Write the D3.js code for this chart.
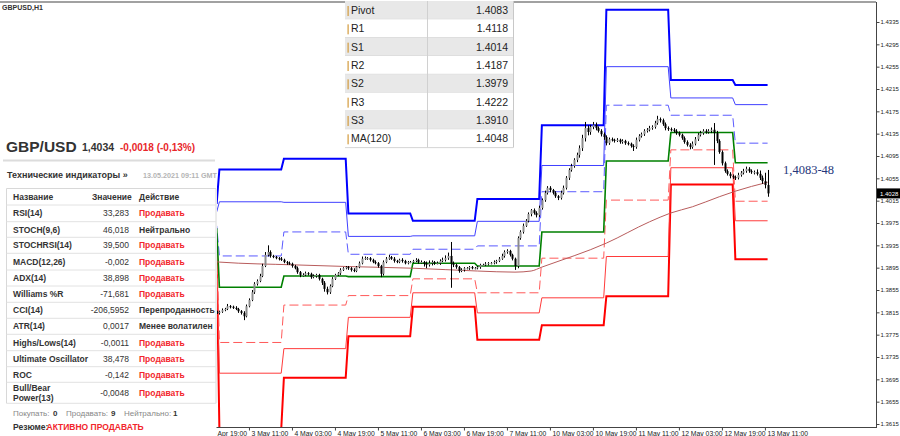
<!DOCTYPE html>
<html><head><meta charset="utf-8">
<script src="https://cdn.jsdelivr.net/npm/d3@7"></script>
<style>
html,body{margin:0;padding:0;background:#fff;}
svg{display:block;}
text{font-family:"Liberation Sans",Arial,sans-serif;}
</style></head>
<body><svg id="c" width="900" height="436"></svg>
<script>
// ---------------- DATA ----------------
const firstIdx = -3; // bar index of first close (30 Apr 21:00); index 0 = 3 May 00:00
const closes = [
1.3814,1.3816,1.3814,
1.3816,1.3819,1.3821,1.3826,1.3825,1.3823,1.3821,1.3817,1.3814,1.3808,1.3826,1.3837,1.3851,1.3866,1.3871,1.3880,1.3898,1.3918,1.3923,1.3916,1.3914,1.3912,1.3911,1.3909,
1.3905,1.3903,1.3902,1.3898,1.3894,1.3887,1.3882,1.3882,1.3885,1.3884,1.3878,1.3880,1.3882,1.3875,1.3868,1.3857,1.3851,1.3862,1.3875,1.3882,1.3885,1.3891,1.3894,1.3896,
1.3894,1.3891,1.3889,1.3896,1.3903,1.3911,1.3912,1.3912,1.3909,1.3905,1.3903,1.3898,1.3884,1.3905,1.3911,1.3914,1.3911,1.3907,1.3905,1.3909,1.3907,1.3903,1.3905,1.3905,
1.3907,1.3909,1.3905,1.3905,1.3902,1.3900,1.3903,1.3905,1.3903,1.3903,1.3907,1.3909,1.3912,1.3916,1.3903,1.3900,1.3896,1.3889,1.3891,1.3894,1.3894,1.3896,1.3894,1.3894,
1.3896,1.3900,1.3900,1.3902,1.3903,1.3903,1.3905,1.3907,1.3911,1.3916,1.3923,1.3925,1.3918,1.3911,1.3898,1.3948,1.3959,1.3970,1.3979,1.3991,1.3998,1.3993,1.3989,1.4002,
1.4016,1.4029,1.4038,1.4034,1.4029,1.4023,1.4020,1.4029,1.4038,1.4056,1.4070,1.4077,1.4088,1.4097,1.4109,1.4127,1.4145,1.4138,1.4147,1.4151,1.4145,1.4140,1.4134,1.4129,
1.4118,1.4125,1.4124,1.4122,1.4124,1.4120,1.4122,1.4118,1.4117,1.4113,1.4111,1.4124,1.4131,1.4134,1.4140,1.4142,1.4145,1.4147,1.4154,1.4161,1.4159,1.4152,1.4145,1.4143,
1.4142,1.4140,1.4136,1.4133,1.4127,1.4120,1.4115,1.4111,1.4117,1.4125,1.4133,1.4136,1.4140,1.4138,1.4140,1.4142,1.4136,1.4122,1.4102,1.4082,1.4068,1.4063,1.4059,1.4057,
1.4056,1.4061,1.4065,1.4068,1.4072,1.4068,1.4066,1.4066,1.4063,1.4056,1.4050,1.4043,1.4028];
// upper / lower wick lengths in pips beyond the candle body
const upWick = [2,2,2,
2,3,2,4,2,2,3,2,2,3,3,3,4,3,3,4,4,5,12,3,2,2,2,3,
2,2,3,2,2,3,2,3,3,2,2,3,2,2,2,3,4,3,3,2,2,3,2,2,
2,2,3,2,3,4,3,2,2,2,3,2,2,3,3,4,2,3,2,2,3,2,2,2,
2,3,2,3,2,4,5,3,2,3,3,4,5,6,25,3,2,2,3,2,2,2,2,2,
2,2,2,3,2,2,3,2,3,4,3,3,2,2,2,3,3,4,3,3,2,3,3,4,
3,4,3,3,2,3,2,4,4,3,3,4,3,4,5,6,11,5,4,5,4,3,3,3,
3,3,3,2,3,2,3,2,3,2,3,4,3,3,3,3,4,3,4,6,3,3,3,3,
3,3,3,3,2,3,3,3,4,4,3,4,3,3,3,4,12,4,3,3,3,3,3,3,
3,4,3,4,4,3,3,3,5,6,4,15,27];
const dnWick = [2,2,2,
3,2,2,2,3,2,2,3,3,7,2,2,2,3,3,2,2,2,3,3,2,2,3,2,
2,3,2,3,2,3,4,3,2,3,3,2,3,3,4,5,4,3,2,2,2,3,2,2,
3,3,2,2,2,2,2,3,3,2,2,3,6,3,2,2,2,3,2,2,3,2,2,2,
2,2,3,3,5,6,3,4,3,2,3,2,3,3,44,4,3,3,2,3,2,3,2,2,
2,3,2,2,3,2,2,3,2,2,3,3,3,3,7,4,3,3,2,3,4,3,4,3,
3,3,3,4,3,3,4,3,3,3,4,3,3,4,5,5,6,6,5,4,4,3,4,5,
4,3,3,3,2,3,3,3,3,3,7,3,3,3,3,3,3,3,3,3,4,3,4,3,
3,3,3,3,3,3,3,4,3,3,3,3,3,3,3,4,57,4,3,4,3,3,4,3,
4,3,3,3,3,3,3,4,3,4,5,6,6];

// daily pivot levels (30 Apr .. 13 May)
const days     = ["30 Apr","3 May","4 May","5 May","6 May","7 May","10 May","11 May","12 May","13 May"];
const dayStart = [-3, 0, 24, 48, 72, 96, 120, 144, 168, 192];
const dayEnd   = [-1, 23, 47, 71, 95, 119, 143, 167, 191, 204];
const R3 = [1.4011,1.4071,1.4090,1.3992,1.3979,1.4018,1.4150,1.4357,1.4231,1.4222];
const R2 = [1.3995,1.4013,1.4012,1.3951,1.3952,1.3978,1.4078,1.4255,1.4199,1.4187];
const R1 = [1.3970,1.3916,1.3959,1.3919,1.3928,1.3934,1.4031,1.4186,1.4168,1.4118];
const PP = [1.3964,1.3860,1.3880,1.3879,1.3903,1.3898,1.3959,1.4086,1.4137,1.4083];
const S1 = [1.3936,1.3761,1.3828,1.3845,1.3875,1.3850,1.3912,1.4016,1.4106,1.4014];
const S2 = [1.3923,1.3706,1.3750,1.3806,1.3850,1.3814,1.3841,1.3915,1.4074,1.3979];
const S3 = [1.3905,1.3605,1.3698,1.3772,1.3825,1.3766,1.3792,1.3844,1.4044,1.3910];

// MA(120) read points
const maIdx = [-3, 0, 28, 48, 72, 96, 110, 116, 120, 144, 160, 168, 176, 186, 192, 204];
const maVal = [1.3907,1.3905,1.3900,1.3897,1.3894,1.3889,1.3887,1.3889,1.3896,1.3939,1.3977,1.3993,1.4004,1.4022,1.4032,1.4048];

// axes
const yTicks = [1.3615,1.3655,1.3695,1.3735,1.3775,1.3815,1.3855,1.3895,1.3935,1.3975,1.4015,1.4055,1.4095,1.4135,1.4175,1.4215,1.4255,1.4295,1.4335];
const xTickIdx = [-5,11,27,43,59,75,91,107,123,139,155,171,187,203];
const xTickLab = ["30 Apr 19:00","3 May 11:00","4 May 03:00","4 May 19:00","5 May 11:00","6 May 03:00","6 May 19:00","7 May 11:00","10 May 03:00","10 May 19:00","11 May 11:00","12 May 03:00","12 May 19:00","13 May 11:00"];
const lastPrice = "1.4028";

// pivot table
const pivNames = ["Pivot","R1","S1","R2","S2","R3","S3","MA(120)"];
const pivVals  = ["1.4083","1.4118","1.4014","1.4187","1.3979","1.4222","1.3910","1.4048"];

// indicator panel
const indNames = ["RSI(14)","STOCH(9,6)","STOCHRSI(14)","MACD(12,26)","ADX(14)","Williams %R","CCI(14)","ATR(14)","Highs/Lows(14)","Ultimate Oscillator","ROC","Bull/Bear|Power(13)"];
const indVals  = ["33,283","46,018","39,500","-0,002","38,898","-71,681","-206,5952","0,0017","-0,0011","38,478","-0,142","-0,0048"];
const indActs  = ["Продавать","Нейтрально","Продавать","Продавать","Продавать","Продавать","Перепроданность","Менее волатилен","Продавать","Продавать","Продавать","Продавать"];
const summaryCounts = [["Покупать: ","0"],["Продавать: ","9"],["Нейтрально: ","1"]];

// ---------------- DRAW ----------------
const svg = d3.select("#c");
svg.append("rect").attr("width",900).attr("height",436).attr("fill","#fff");

const x = d3.scaleLinear().domain([0,204]).range([219.4,767.6]);
const y = d3.scaleLinear().domain([1.3615,1.4335]).range([424,22]);

svg.append("clipPath").attr("id","plot").append("rect")
  .attr("x",217).attr("y",2.5).attr("width",659).attr("height",425);
const plot = svg.append("g").attr("clip-path","url(#plot)");

const line = d3.line().x(d=>x(d[0])).y(d=>y(d[1]));
function steps(vals){ const p=[]; vals.forEach((v,k)=>{p.push([dayStart[k],v]);p.push([dayEnd[k],v]);}); return p; }

const levelDefs = [
  {v:S3,c:"#ff0000",w:2,d:null},
  {v:S2,c:"#ff3b3b",w:1,d:null},
  {v:S1,c:"#ff5a5a",w:1,d:"9,4"},
  {v:R3,c:"#0000ff",w:2,d:null},
  {v:R2,c:"#4040ff",w:1,d:null},
  {v:R1,c:"#5a5aff",w:1,d:"9,4"},
  {v:PP,c:"#008000",w:1.6,d:null}
];
levelDefs.forEach(L=>{
  plot.append("path").attr("d",line(steps(L.v))).attr("fill","none")
    .attr("stroke",L.c).attr("stroke-width",L.w).attr("stroke-dasharray",L.d);
});

// MA
plot.append("path")
  .attr("d",d3.line().x(d=>x(d[0])).y(d=>y(d[1])).curve(d3.curveMonotoneX)(maIdx.map((d,i)=>[d,maVal[i]])))
  .attr("fill","none").attr("stroke","#b85c5c").attr("stroke-width",1);

// candles
const bars = closes.map((c,i)=>{
  const o = i>0 ? closes[i-1] : c;
  return {i:firstIdx+i,o:o,c:c,h:Math.max(o,c)+upWick[i]*0.0001,l:Math.min(o,c)-dnWick[i]*0.0001};
});
const cg = plot.append("g");
cg.selectAll("line").data(bars).join("line")
  .attr("x1",d=>Math.round(x(d.i))+0.5).attr("x2",d=>Math.round(x(d.i))+0.5)
  .attr("y1",d=>y(d.h)).attr("y2",d=>y(d.l)).attr("stroke","#000").attr("stroke-width",1);
cg.selectAll("rect").data(bars).join("rect")
  .attr("x",d=>Math.round(x(d.i))-0.5).attr("width",2)
  .attr("y",d=>y(Math.max(d.o,d.c))).attr("height",d=>Math.max(1,Math.abs(y(d.o)-y(d.c))))
  .attr("fill",d=>d.c>=d.o?"#8c8c8c":"#000");

// frame
svg.append("line").attr("x1",0).attr("x2",876).attr("y1",2).attr("y2",2).attr("stroke","#444").attr("stroke-width",1.2);
svg.append("line").attr("x1",876.5).attr("x2",876.5).attr("y1",2).attr("y2",428).attr("stroke","#444");
svg.append("line").attr("x1",0).attr("x2",876.5).attr("y1",427.5).attr("y2",427.5).attr("stroke","#444");

// y axis
const gy = svg.append("g").attr("transform","translate(876.5,0)")
  .call(d3.axisRight(y).tickValues(yTicks).tickFormat(d3.format(".4f")).tickSize(3).tickSizeOuter(0));
gy.select(".domain").remove();
gy.selectAll("line").attr("stroke","#444");
gy.selectAll("text").attr("x",4).attr("fill","#222").style("font-size","6px");

// x axis
const gx = svg.append("g").attr("transform","translate(0,427.5)")
  .call(d3.axisBottom(x).tickValues(xTickIdx).tickFormat((d,i)=>xTickLab[i]).tickSize(3).tickSizeOuter(0));
gx.select(".domain").remove();
gx.selectAll("line").attr("stroke","#444");
gx.selectAll("text").attr("text-anchor","start").attr("x",2).attr("y",8).attr("dy","0").attr("fill","#222").style("font-size","6.8px");

// last price tag
svg.append("rect").attr("x",877).attr("y",y(1.4028)-5).attr("width",23).attr("height",10).attr("fill","#000");
svg.append("text").attr("x",880).attr("y",y(1.4028)+2.2).attr("fill","#fff").style("font-size","6px").text(lastPrice);

// annotation
svg.append("text").attr("x",783).attr("y",174).attr("fill","#26367a")
  .style("font-family","'Liberation Serif','Times New Roman',serif").style("font-size","12.5px").text("1,4083-48");

// pivot table
const tb = svg.append("g");
const rowH = 18.33, tx0 = 345, tw = 168, ty0 = 1;
pivNames.forEach((n,i)=>{
  const yy = ty0 + i*rowH;
  tb.append("rect").attr("x",tx0).attr("y",yy).attr("width",tw).attr("height",rowH).attr("fill",i%2===0?"#e8e8e8":"#fff");
  tb.append("line").attr("x1",tx0).attr("x2",tx0+tw).attr("y1",yy+rowH).attr("y2",yy+rowH).attr("stroke","#d4d4d4");
  tb.append("rect").attr("x",347.5).attr("y",yy+5).attr("width",1.2).attr("height",10).attr("fill","#d39b3c");
  tb.append("text").attr("x",351).attr("y",yy+13).attr("fill","#222").style("font-size","10.5px").text(n);
  tb.append("text").attr("x",508).attr("y",yy+13).attr("text-anchor","end").attr("fill","#222").style("font-size","10.5px").text(pivVals[i]);
});
tb.append("line").attr("x1",427.5).attr("x2",427.5).attr("y1",ty0).attr("y2",ty0+8*rowH).attr("stroke","#d0d0d0");
tb.append("line").attr("x1",513.5).attr("x2",513.5).attr("y1",ty0).attr("y2",ty0+8*rowH).attr("stroke","#c8c8c8");

// left panel
const pn = svg.append("g");
pn.append("rect").attr("x",0).attr("y",3).attr("width",216.5).attr("height",433).attr("fill","#fff");
svg.append("text").attr("x",2).attr("y",9.5).attr("fill","#333").style("font-size","7px").style("font-weight","bold").text("GBPUSD,H1");

pn.append("text").attr("x",6).attr("y",152).attr("fill","#333").style("font-size","15.5px").style("font-weight","bold").text("GBP/USD");
pn.append("text").attr("x",82).attr("y",151).attr("fill","#333").style("font-size","10.5px").style("font-weight","bold").text("1,4034");
pn.append("text").attr("x",120).attr("y",151).attr("fill","#e8262a").style("font-size","10px").style("font-weight","bold").text("-0,0018 (-0,13%)");
pn.append("rect").attr("x",3).attr("y",159.5).attr("width",212).attr("height",2).attr("fill","#dcdcdc");
pn.append("text").attr("x",7).attr("y",177.5).attr("fill","#333").style("font-size","9px").style("font-weight","bold").text("Технические индикаторы »");
pn.append("text").attr("x",143).attr("y",177.5).attr("fill","#b4b4b4").style("font-size","7.2px").style("font-weight","bold").text("13.05.2021 09:11 GMT");

// indicator table
const rowB = [205,221.7,237.3,253.3,270,286,302.3,318.3,334.3,350.7,366.7,382.3,403.3];
const tl = 6.5, tr = 216;
pn.append("line").attr("x1",tl).attr("x2",tr).attr("y1",188.5).attr("y2",188.5).attr("stroke","#d8d8d8");
pn.append("line").attr("x1",tl).attr("x2",tl).attr("y1",188.5).attr("y2",403.3).attr("stroke","#d8d8d8");
pn.append("line").attr("x1",tr).attr("x2",tr).attr("y1",188.5).attr("y2",403.3).attr("stroke","#d8d8d8");
rowB.forEach(b=>pn.append("line").attr("x1",tl).attr("x2",tr).attr("y1",b).attr("y2",b).attr("stroke","#e2e2e2"));
[["Название",13],["Значение",92],["Действие",139]].forEach(h=>{
  pn.append("text").attr("x",h[1]).attr("y",199.5).attr("fill","#333").style("font-size","8.5px").style("font-weight","bold").text(h[0]);
});
indNames.forEach((n,i)=>{
  const top = rowB[i], bot = rowB[i+1], cy = (top+bot)/2;
  const parts = n.split("|");
  if(parts.length===1){
    pn.append("text").attr("x",13).attr("y",cy+3).attr("fill","#333").style("font-size","8.5px").style("font-weight","bold").text(n);
  } else {
    pn.append("text").attr("x",13).attr("y",cy-1.5).attr("fill","#333").style("font-size","8.5px").style("font-weight","bold").text(parts[0]);
    pn.append("text").attr("x",13).attr("y",cy+8).attr("fill","#333").style("font-size","8.5px").style("font-weight","bold").text(parts[1]);
  }
  pn.append("text").attr("x",129).attr("y",cy+3).attr("text-anchor","end").attr("fill","#333").style("font-size","8.5px").text(indVals[i]);
  const red = indActs[i]==="Продавать";
  pn.append("text").attr("x",139).attr("y",cy+3).attr("fill",red?"#f2262c":"#333").style("font-size","8.5px").style("font-weight","bold").text(indActs[i]);
});
const sumX = [[13,53],[66,111],[124,173]];
summaryCounts.forEach((s,i)=>{
  pn.append("text").attr("x",sumX[i][0]).attr("y",416).attr("fill","#888").style("font-size","8px").text(s[0]);
  pn.append("text").attr("x",sumX[i][1]).attr("y",416).attr("fill","#333").style("font-size","8px").style("font-weight","bold").text(s[1]);
});
pn.append("text").attr("x",13).attr("y",429.5).attr("fill","#333").style("font-size","8.5px").style("font-weight","bold").text("Резюме:");
pn.append("text").attr("x",46.5).attr("y",429.5).attr("fill","#f2262c").style("font-size","8.5px").style("font-weight","bold").text("АКТИВНО ПРОДАВАТЬ");
</script></body></html>
